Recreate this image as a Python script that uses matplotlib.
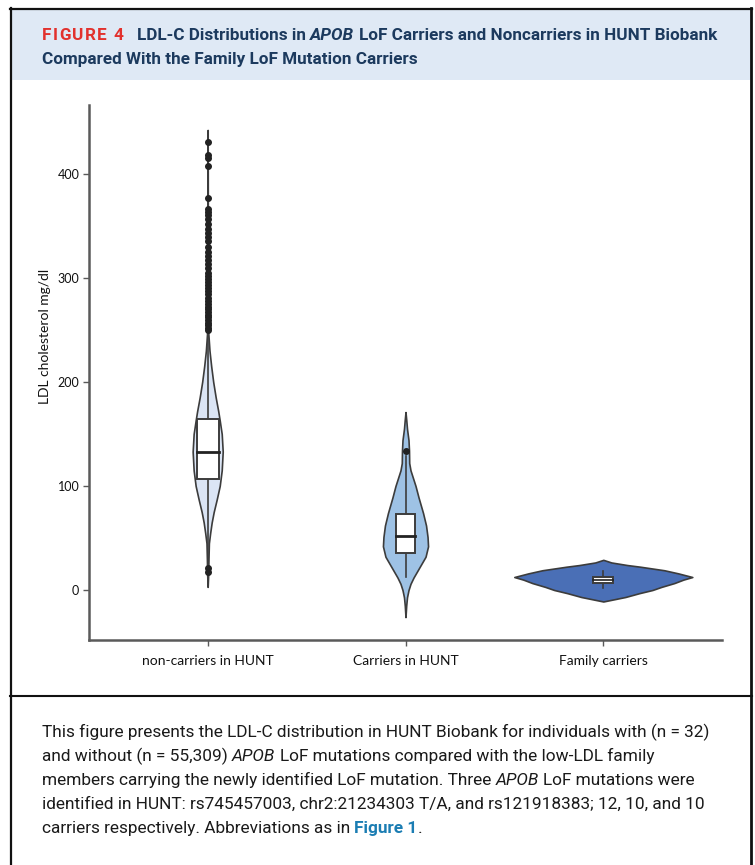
import numpy as np
import matplotlib
matplotlib.use('Agg')
import matplotlib.pyplot as plt
from matplotlib.patches import Rectangle

# ---------------- data ----------------
categories = ['non-carriers in HUNT', 'Carriers in HUNT', 'Family carriers']
y_ticks = [0, 100, 200, 300, 400]

# violin outlines: LDL level (mg/dl) and relative density
nc_levels = [3, 15, 30, 45, 55, 65, 75, 87, 100, 115, 133, 150, 163, 172, 185, 200, 215, 230, 247, 280, 442]
nc_density = [0, 0.5, 0.8, 1.2, 2.5, 4, 6, 9, 12, 14, 15, 14, 12, 10.5, 8, 5.5, 3.5, 1.8, 0.6, 0.3, 0]

car_levels = [-26, -15, -7, 0, 6, 12, 22, 32, 42, 51, 62, 74, 89, 100, 106, 115, 122, 134, 144, 155, 163, 171]
car_density = [0, 0.7, 1.5, 3, 5, 8, 14, 20, 22.5, 22, 20.5, 17.5, 13, 10, 8, 5, 3.7, 3.5, 3, 1.5, 0.8, 0]

fam_levels = [-11, -6.7, -3, 0, 3, 6.7, 10, 12.5, 16, 19, 22.4, 24, 26.5, 29]
fam_density = [0, 22, 36, 49, 58, 71, 80, 89, 75, 61, 37, 24, 8, 0]

# box plot statistics
q1 = [107, 35.5, 7]
medians = [133, 52, 10]
q3 = [164, 73, 12.5]
whisker_lo = [22, 12.5, 1.5]
whisker_hi = [247, 129, 18.5]

nc_outliers = [17, 21, 250, 252, 255, 257, 259, 262, 264, 267, 270, 272, 275, 278, 281,
               284, 287, 290, 293, 296, 299, 302, 305, 309, 313, 317, 321, 325, 330, 335,
               339, 343, 347, 352, 356, 360, 363, 366, 377, 407, 415, 418, 430]
car_outliers = [134]
fam_outliers = []

# ---------------- styles ----------------
W, H = 755, 865
violin_fill = ['#dbe5f5', '#9ec2e5', '#4a6fb6']
violin_maxw = [0.076, 0.114, 0.45]
box_halfw = [0.055, 0.05, 0.05]
median_lw = [2.0, 2.0, 1.2]
edge = '#3c3c3c'
axis_font = ['Lato', 'DejaVu Sans']
narrow = ['Liberation Sans Narrow', 'Roboto', 'DejaVu Sans']

fig = plt.figure(figsize=(W / 100, H / 100), dpi=100)
bg = fig.add_axes([0, 0, 1, 1], zorder=0)
bg.set_xlim(0, W)
bg.set_ylim(H, 0)
bg.axis('off')

# frame and title band
bg.add_patch(Rectangle((10, 9), 741, 71, facecolor='#dfe9f5', edgecolor='none'))
bg.plot([10.5, 10.5], [8, H], color='#111', lw=1.6)
bg.plot([751, 751], [8, H], color='#111', lw=2.0)
bg.plot([10, 751.5], [8.5, 8.5], color='#111', lw=1.6)
bg.plot([10, 751.5], [696, 696], color='#111', lw=1.5)

# ---------------- main plot ----------------
ax = fig.add_axes([89 / W, (H - 640) / H, 633 / W, 535 / H], zorder=1)
ax.set_facecolor('none')
levels_all = [nc_levels, car_levels, fam_levels]
dens_all = [nc_density, car_density, fam_density]
outl_all = [nc_outliers, car_outliers, fam_outliers]

for i in range(3):
    lv = np.array(levels_all[i], dtype=float)
    d = np.array(dens_all[i], dtype=float)
    half = d / d.max() * violin_maxw[i]
    ax.fill_betweenx(lv, i - half, i + half, facecolor=violin_fill[i],
                     edgecolor=edge, lw=1.2, zorder=2)
    bw = box_halfw[i]
    ax.plot([i, i], [whisker_lo[i], q1[i]], color=edge, lw=1.2, zorder=3)
    ax.plot([i, i], [q3[i], whisker_hi[i]], color=edge, lw=1.2, zorder=3)
    ax.add_patch(Rectangle((i - bw, q1[i]), 2 * bw, q3[i] - q1[i],
                           facecolor='white', edgecolor=edge, lw=1.4, zorder=4))
    ax.plot([i - bw, i + bw], [medians[i], medians[i]], color='#222',
            lw=median_lw[i], zorder=5)
    if outl_all[i]:
        ax.plot([i] * len(outl_all[i]), outl_all[i], 'o', ms=4.0, color='#222',
                zorder=5)

ax.set_xlim(-0.6, 2.6)
ax.set_ylim(-48, 466)
ax.set_yticks(y_ticks)
ax.set_xticks(range(3))
ax.set_xticklabels(categories, fontsize=10, family=axis_font, color='#111')
ax.set_yticklabels([str(v) for v in y_ticks], fontsize=9, family=axis_font, color='#111')
for s in ['top', 'right']:
    ax.spines[s].set_visible(False)
for s in ['left', 'bottom']:
    ax.spines[s].set_color('#5a5a5a')
    ax.spines[s].set_linewidth(1.8)
ax.tick_params(axis='both', direction='out', length=4, width=1, color='#5a5a5a', pad=3)
ax.tick_params(axis='x', pad=7)
bg.text(45, 336, 'LDL cholesterol mg/dl', rotation=90, ha='center', va='center',
        fontsize=10, family=axis_font, color='#111')

# ---------------- rich text helpers ----------------
renderer = fig.canvas.get_renderer()


def adv(s, size, **kw):
    t1 = bg.text(0, 0, '|' + s + '|', fontsize=size, **kw)
    t2 = bg.text(0, 0, '||', fontsize=size, **kw)
    w = t1.get_window_extent(renderer).width - t2.get_window_extent(renderer).width
    t1.remove()
    t2.remove()
    return w


def rich(x, y, pieces, size):
    for txt, kw in pieces:
        bg.text(x, y, txt, fontsize=size, ha='left', va='baseline', **kw)
        x += adv(txt, size, **kw)
    return x


# ---------------- title ----------------
navy = '#1c3a5e'
tb = dict(family=narrow, fontweight='bold', color=navy)
tbi = dict(family=narrow, fontweight='bold', style='italic', color=navy)
line1 = [('LDL-C Distributions in ', tb), ('APOB ', tbi),
         ('LoF Carriers and Noncarriers in HUNT Biobank', tb)]
w10 = sum(adv(t, 10, **k) for t, k in line1)
tsize = 10 * 581 / w10
rich(137, 40, line1, tsize)
rich(42, 64, [('Compared With the Family LoF Mutation Carriers', tb)], tsize)

# letter-spaced "FIGURE 4"
red = dict(family=narrow, fontweight='bold', color='#e2312d')
fs = tsize
chars = list('FIGURE 4')
cw = [adv(c, fs, **red) for c in chars]
spacing = max(0.5, (81 - sum(cw)) / (len(chars) - 1))
x = 42
for c, w in zip(chars, cw):
    bg.text(x, 40, c, fontsize=fs, ha='left', va='baseline', **red)
    x += w + spacing

# ---------------- caption ----------------
cn = dict(family=narrow, color='#1a1a1a')
ci = dict(family=narrow, style='italic', color='#1a1a1a')
cb = dict(family=narrow, fontweight='bold', color='#1b7db3')
cap = [
    [('This figure presents the LDL-C distribution in HUNT Biobank for individuals with (n = 32)', cn)],
    [('and without (n = 55,309) ', cn), ('APOB ', ci),
     ('LoF mutations compared with the low-LDL family', cn)],
    [('members carrying the newly identified LoF mutation. Three ', cn), ('APOB ', ci),
     ('LoF mutations were', cn)],
    [('identified in HUNT: rs745457003, chr2:21234303 T/A, and rs121918383; 12, 10, and 10', cn)],
    [('carriers respectively. Abbreviations as in ', cn), ('Figure 1', cb), ('.', cn)],
]
wc = sum(adv(t, 10, **k) for t, k in cap[0])
csize = 10 * 670 / wc
for j, pieces in enumerate(cap):
    rich(42, 737 + 24 * j, pieces, csize)

fig.savefig('out.png', dpi=100)
